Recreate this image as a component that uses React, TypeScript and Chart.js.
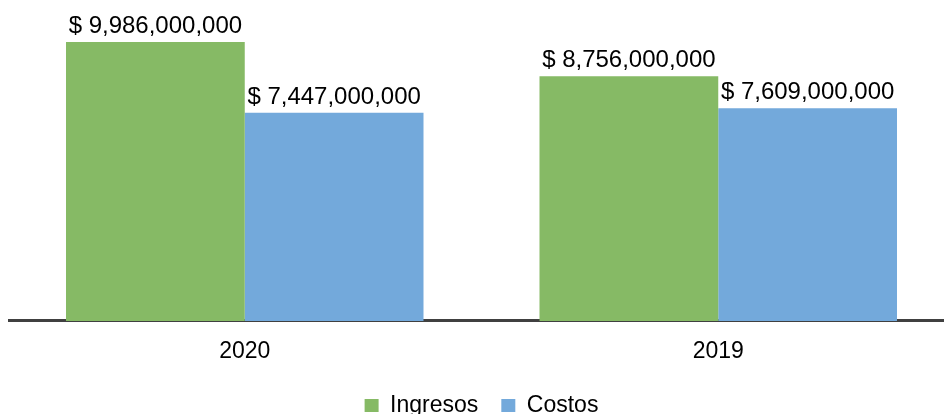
import React, { useEffect, useRef } from "react";
import { Chart, registerables } from "chart.js";

Chart.register(...registerables);

const categories = ["2020", "2019"];
const ingresos = [9986000000, 8756000000];
const costos = [7447000000, 7609000000];
const seriesNames = ["Ingresos", "Costos"];

const FONT = "'Liberation Sans', Arial, Helvetica, sans-serif";

const valueLabels = {
  id: "valueLabels",
  afterDatasetsDraw(chart: any) {
    const ctx = chart.ctx;
    ctx.save();
    ctx.font = `24px ${FONT}`;
    ctx.fillStyle = "#000";
    ctx.textAlign = "center";
    ctx.textBaseline = "alphabetic";
    chart.data.datasets.forEach((ds: any, di: number) => {
      const meta = chart.getDatasetMeta(di);
      meta.data.forEach((el: any, i: number) => {
        const v = ds.data[i] as number;
        const txt = "$ " + v.toLocaleString("en-US");
        ctx.fillText(txt, el.x, el.y - 9);
      });
    });
    ctx.restore();
  },
};

export default function App() {
  const ref = useRef<HTMLCanvasElement>(null);
  useEffect(() => {
    document.documentElement.style.overflow = "hidden";
    document.body.style.margin = "0";
    const chart = new Chart(ref.current!, {
      type: "bar",
      data: {
        labels: categories,
        datasets: [
          {
            label: seriesNames[0],
            data: ingresos,
            backgroundColor: "#86BA65",
            borderWidth: 0,
          },
          {
            label: seriesNames[1],
            data: costos,
            backgroundColor: "#73A9DB",
            borderWidth: 0,
          },
        ],
      },
      options: {
        animation: false,
        responsive: false,
        maintainAspectRatio: false,
        layout: { padding: 0 },
        datasets: {
          bar: { categoryPercentage: 0.755, barPercentage: 1 },
        },
        scales: {
          x: {
            grid: { display: false, drawTicks: false },
            border: { display: true, color: "#404040", width: 3 },
            ticks: {
              color: "#000",
              font: { family: FONT, size: 23 },
              padding: 17,
            },
            afterFit: (scale: any) => {
              scale.height -= 11.5;
            },
          },
          y: {
            display: false,
            min: 0,
            max: 11200000000,
          },
        },
        plugins: {
          legend: {
            display: true,
            position: "bottom",
            labels: {
              color: "#000",
              font: { family: FONT, size: 23 },
              boxWidth: 14,
              boxHeight: 13,
              padding: 23,
            },
          },
          tooltip: { enabled: false },
        },
      },
      plugins: [valueLabels],
    });
    return () => chart.destroy();
  }, []);
  return (
    <div
      style={{
        width: 944,
        height: 414,
        overflow: "hidden",
        paddingLeft: 8,
        paddingTop: 8,
        boxSizing: "border-box",
      }}
    >
      <canvas ref={ref} width={947} height={419} style={{ display: "block" }} />
    </div>
  );
}
